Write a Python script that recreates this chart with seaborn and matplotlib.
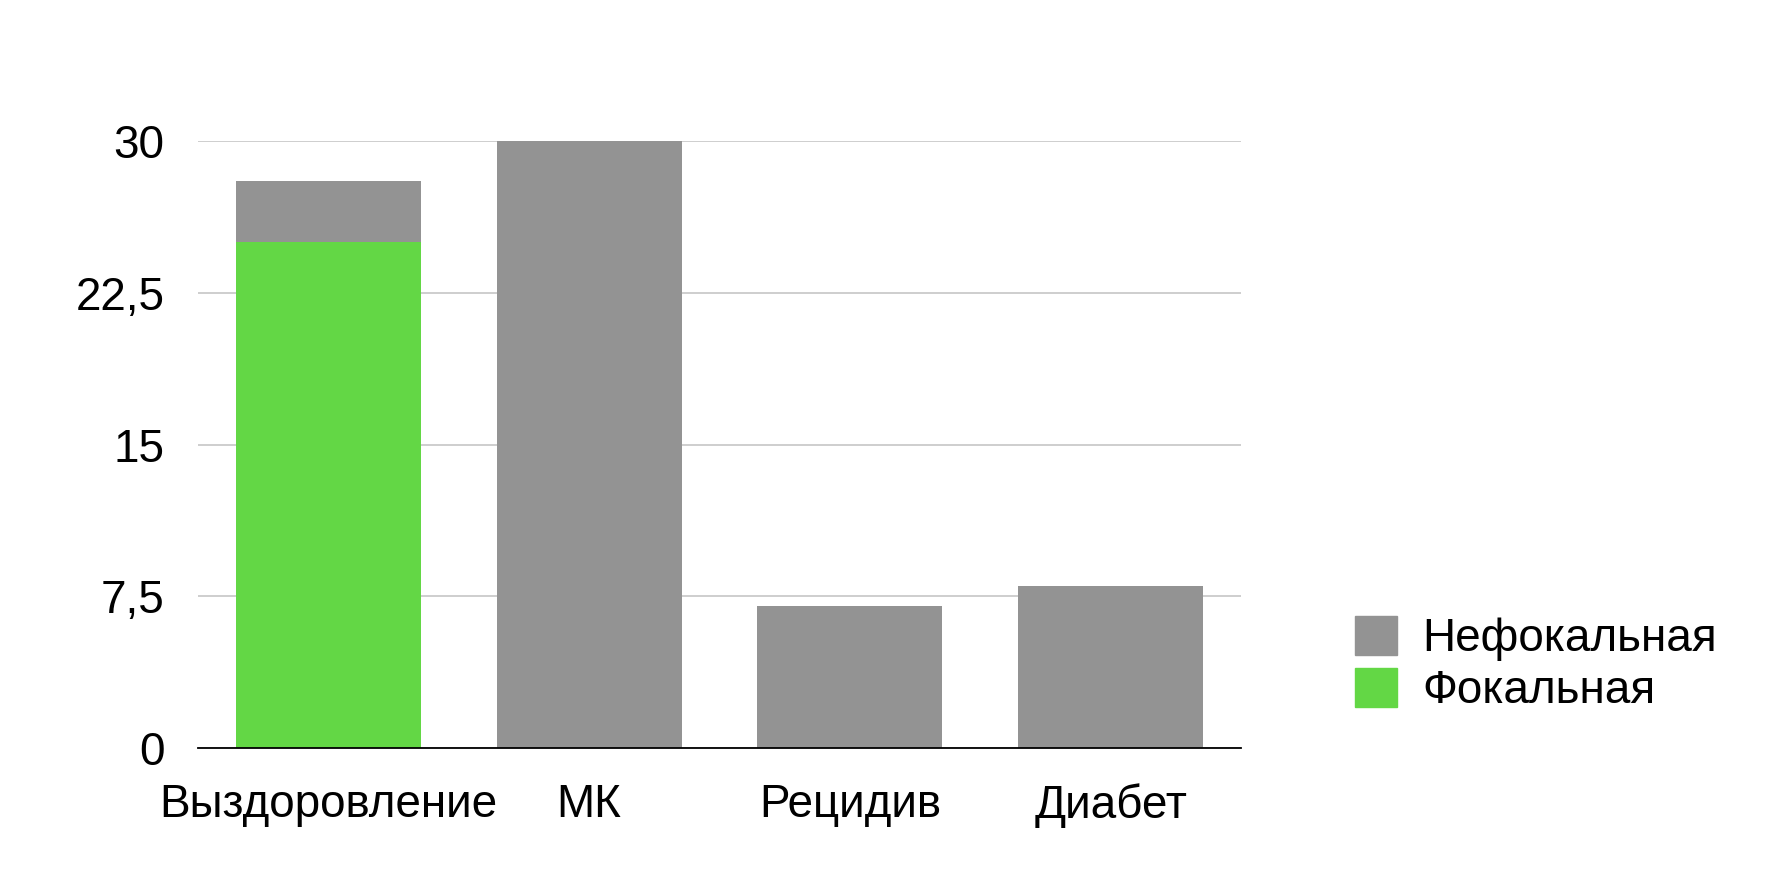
import matplotlib
matplotlib.use("Agg")
import matplotlib.pyplot as plt
import matplotlib.patches as mpatches
import seaborn as sns
import pandas as pd

# data
categories = ["Выздоровление", "МК", "Рецидив", "Диабет"]
focal = [25, 0, 0, 0]
nonfocal = [3, 30, 7, 8]
series_names = ["Нефокальная", "Фокальная"]
yticks = [0, 7.5, 15, 22.5, 30]

grey = "#939393"
green = "#63D745"

sns.set_theme(style="white")
plt.rcParams["font.family"] = ["Liberation Sans", "DejaVu Sans"]

df = pd.DataFrame({"cat": categories,
                   "total": [f + n for f, n in zip(focal, nonfocal)],
                   "focal": focal})

fig = plt.figure(figsize=(17.72, 8.86), dpi=100)
ax = fig.add_axes([198 / 1772, 138 / 886, 1043 / 1772, 607 / 886])

sns.barplot(data=df, x="cat", y="total", color=grey, saturation=1,
            width=0.71, linewidth=0, ax=ax, zorder=3)
sns.barplot(data=df, x="cat", y="focal", color=green, saturation=1,
            width=0.71, linewidth=0, ax=ax, zorder=4)

ax.set_xlim(-0.5, 3.5)
ax.set_ylim(0, 30)
ax.set_yticks(yticks)
ax.set_yticklabels([f"{t:g}".replace(".", ",") for t in yticks])
ax.yaxis.grid(True, color="#c6c6c6", linewidth=1.2, zorder=0)
ax.set_axisbelow(True)
for s in ["top", "right", "left"]:
    ax.spines[s].set_visible(False)
ax.spines["bottom"].set_color("black")
ax.spines["bottom"].set_linewidth(1.3)
ax.spines["bottom"].set_zorder(5)
ax.tick_params(axis="y", length=0, pad=24, labelsize=33, colors="black")
ax.tick_params(axis="x", length=0, pad=25, labelsize=33, colors="black")
ax.set_xlabel("")
ax.set_ylabel("")

handles = [mpatches.Patch(color=grey, label=series_names[0]),
           mpatches.Patch(color=green, label=series_names[1])]
fig.legend(handles=handles, loc="upper left",
           bbox_to_anchor=(1332 / 1772, 1 - 593 / 886),
           frameon=False, fontsize=33, labelcolor="black",
           handlelength=0.92, handleheight=0.92, handletextpad=0.55,
           labelspacing=0.15, borderpad=0)

fig.savefig("out.png", dpi=100)
